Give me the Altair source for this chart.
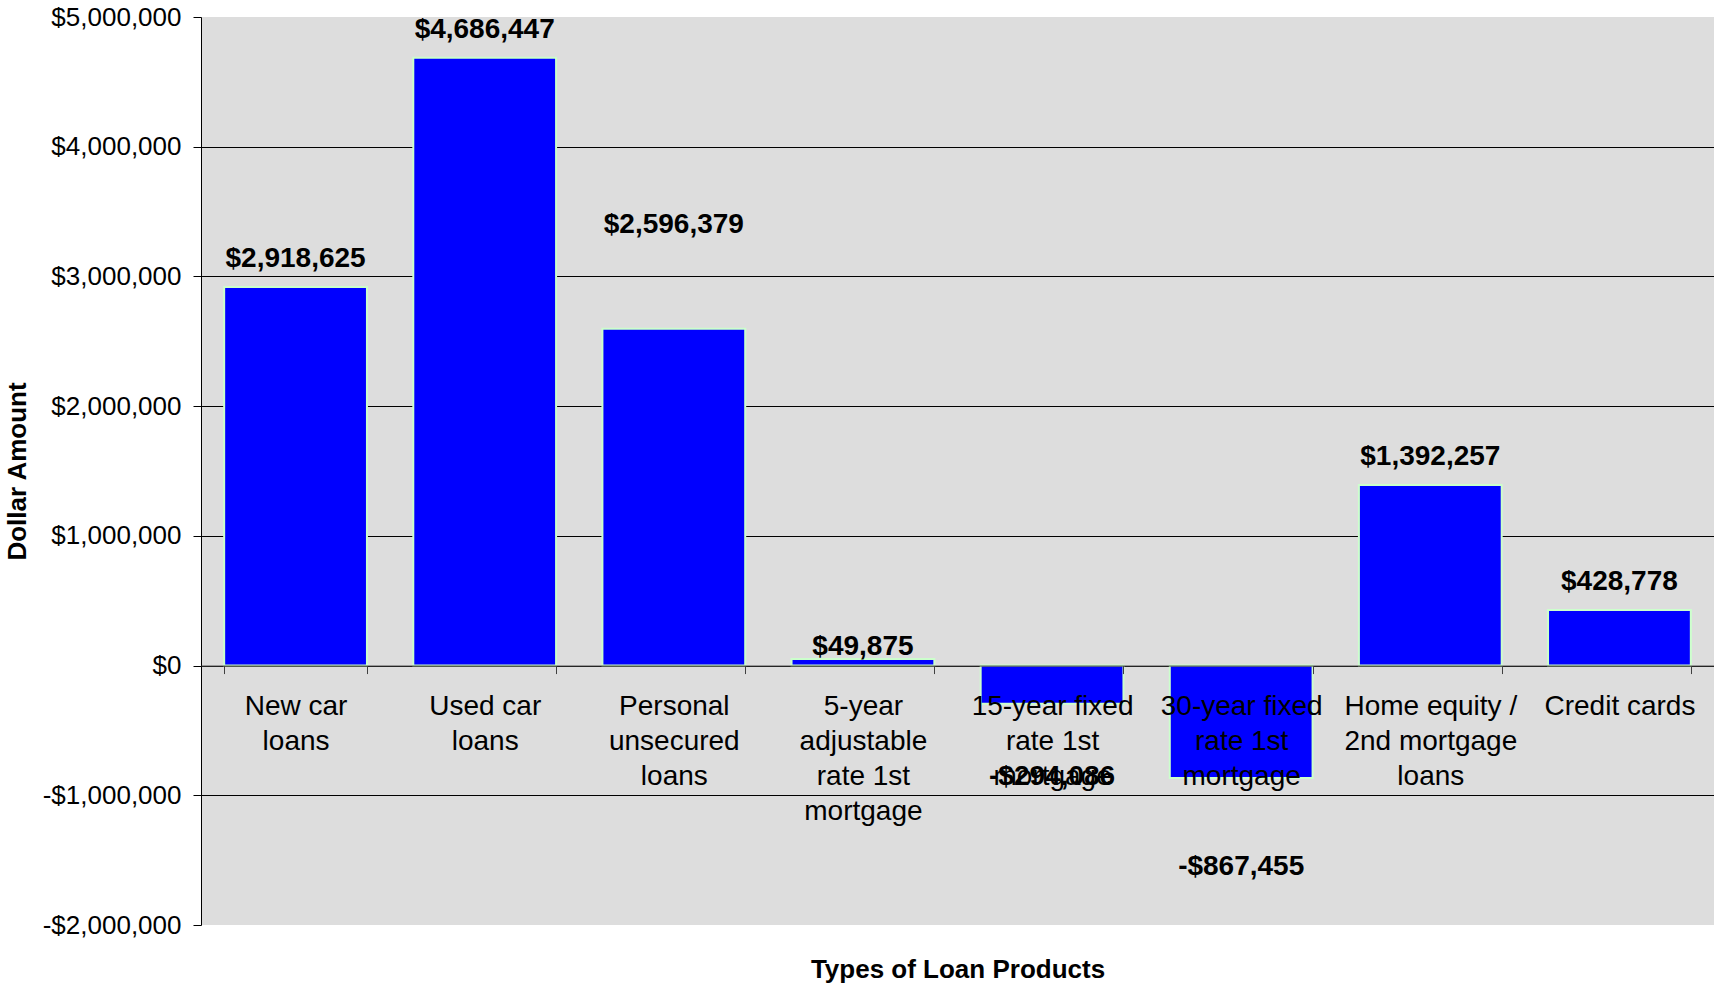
import altair as alt
import pandas as pd

# ---- data ----
categories = [
    "New car|loans",
    "Used car|loans",
    "Personal|unsecured|loans",
    "5-year|adjustable|rate 1st|mortgage",
    "15-year fixed|rate 1st|mortgage",
    "30-year fixed|rate 1st|mortgage",
    "Home equity /|2nd mortgage|loans",
    "Credit cards",
]
amounts = [2918625, 4686447, 2596379, 49875, -294086, -867455, 1392257, 428778]
# where each data label's baseline sits, in dollars (as placed in the reference)
label_anchor = [3075000, 4836000, 3332000, 81000, -921000, -1615000, 1546000, 582000]
y_ticks = [-2000000, -1000000, 0, 1000000, 2000000, 3000000, 4000000, 5000000]


def money(v):
    return ("-" if v < 0 else "") + "${:,}".format(abs(v))


df = pd.DataFrame({
    "category": categories,
    "amount": amounts,
    "label_at": label_anchor,
    "label": [money(v) for v in amounts],
})

# ---- layout ----
W, H = 1513, 908
PAD_L, PAD_T = 201, 17
YMIN, YMAX = -2000000, 5000000
zero_offset = -H * (0 - YMIN) / (YMAX - YMIN)
FONT = "Liberation Sans"

x_scale = alt.Scale(paddingInner=0.245, paddingOuter=0.1225)
y_scale = alt.Scale(domain=[YMIN, YMAX], nice=False)

grid_color = {
    "condition": {"test": "datum.value >= 5000000 || datum.value <= -2000000",
                  "value": "transparent"},
    "value": "#000000",
}

x_axis = alt.Axis(
    orient="bottom",
    offset=zero_offset,
    tickBand="extent",
    tickSize=8,
    tickColor="#404040",
    domainColor="#404040",
    domainWidth=1,
    labelExpr="isString(datum.value) ? split(datum.value, '|') : ''",
    labelFont=FONT,
    labelFontSize=28,
    labelLineHeight=35,
    labelColor="#000000",
    labelBaseline="alphabetic",
    labelPadding=41,
    labelAngle=0,
    labelOverlap=False,
    labelLimit=500,
    labelBound=False,
    labelFlush=False,
    grid=False,
    title="Types of Loan Products",
    titleFont=FONT,
    titleFontSize=26,
    titleFontWeight="bold",
    titleColor="#000000",
    titleX=W / 2,
    titleY=977 - (PAD_T + H + zero_offset),
    titleBaseline="alphabetic",
    titleAlign="center",
    zindex=1,
)

y_axis = alt.Axis(
    values=y_ticks,
    labelExpr="(datum.value < 0 ? '-' : '') + '$' + format(abs(datum.value), ',')",
    labelFont=FONT,
    labelFontSize=26,
    labelColor="#000000",
    labelPadding=12,
    tickSize=8,
    tickColor="#000000",
    domainColor="#000000",
    domainWidth=1,
    grid=True,
    gridColor=grid_color,
    gridWidth=1,
    title="Dollar Amount",
    titleFont=FONT,
    titleFontSize=26,
    titleFontWeight="bold",
    titleColor="#000000",
    titleAngle=270,
    titleX=25 - PAD_L,
    titleY=H / 2,
    titleBaseline="alphabetic",
    titleAlign="center",
    zindex=0,
)

base = alt.Chart(df)

bars = base.mark_bar(color="#0000FF", stroke="#CCFFCC", strokeWidth=2).encode(
    x=alt.X("category:N", sort=categories, scale=x_scale, axis=x_axis),
    y=alt.Y("amount:Q", scale=y_scale, axis=y_axis),
)

labels = base.mark_text(
    font=FONT, fontSize=28, fontWeight="bold", color="#000000",
    align="center", baseline="alphabetic",
).encode(
    x=alt.X("category:N", sort=categories, scale=x_scale, axis=x_axis),
    y=alt.Y("label_at:Q", scale=y_scale, axis=y_axis),
    text="label:N",
)

chart = (
    alt.layer(bars, labels)
    .properties(
        width=W,
        height=H,
        autosize=alt.AutoSizeParams(type="none"),
        padding={"left": PAD_L, "top": PAD_T, "right": 0, "bottom": 58},
        background="#FFFFFF",
    )
    .configure(font=FONT)
    .configure_view(fill="#DDDDDD", strokeWidth=0)
)

chart.save("out.html", embed_options={"renderer": "svg", "actions": False})
